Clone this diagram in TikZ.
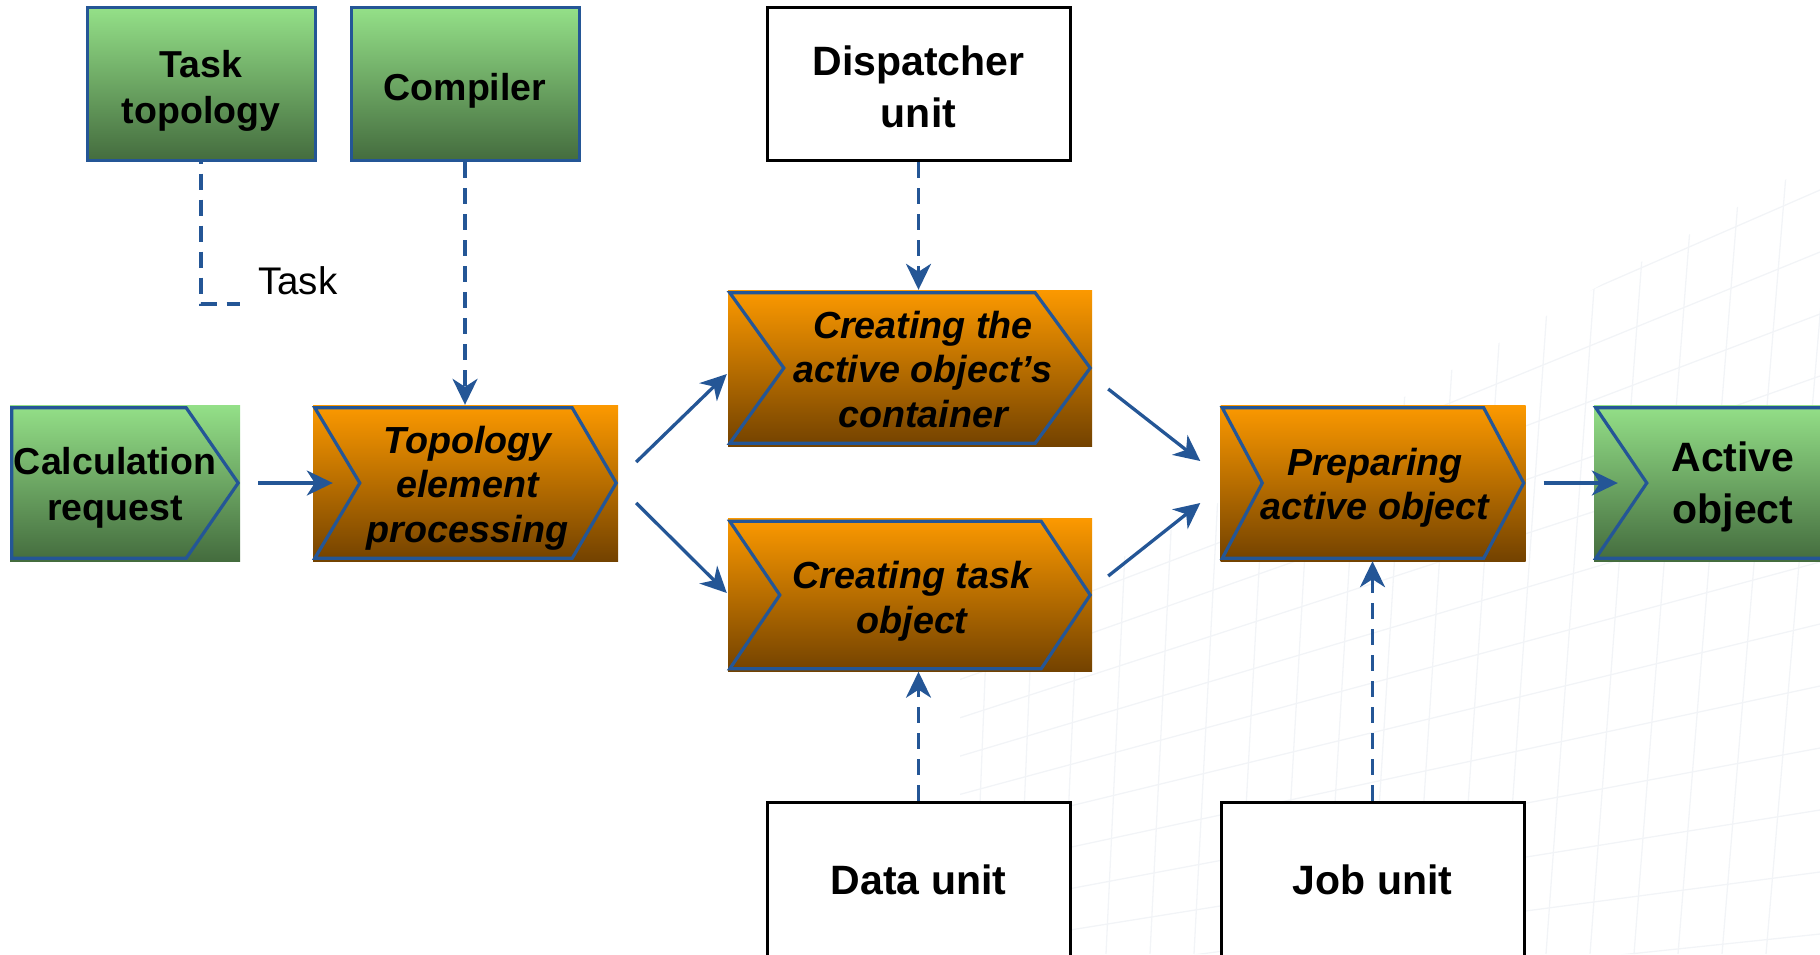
\documentclass[tikz,border=0pt]{standalone}
\usepackage{fontspec}
\setmainfont{Liberation Sans}
\usetikzlibrary{arrows.meta,calc}
\definecolor{gtop}{RGB}{148,224,136}
\definecolor{gbot}{RGB}{68,108,62}
\definecolor{otop}{RGB}{252,153,0}
\definecolor{obot}{RGB}{115,66,0}
\definecolor{lblue}{RGB}{36,86,150}
\definecolor{gridc}{RGB}{242,244,247}
\tikzset{
  gbox/.style={rectangle, inner sep=0pt, top color=gtop, bottom color=gbot},
  gboxd/.style={gbox, draw=lblue, line width=3pt},
  obox/.style={rectangle, inner sep=0pt, top color=otop, bottom color=obot},
  wbox/.style={rectangle, inner sep=0pt, draw=black, fill=white, line width=3pt},
  gtxt/.style={font=\fontsize{37.5}{46}\selectfont\bfseries, align=center, inner sep=0pt},
  otxt/.style={font=\fontsize{37.7}{44.5}\selectfont\bfseries\itshape, align=center, inner sep=0pt},
  wtxt/.style={font=\fontsize{41}{52}\selectfont\bfseries, align=center, inner sep=0pt},
  outl/.style={draw=lblue, line width=3.2pt},
  arr/.style={draw=lblue, line width=3.3pt, -{Stealth[length=26pt,width=25pt,inset=8pt]}},
  darr/.style={arr, dash pattern=on 16pt off 10pt},
  dln/.style={draw=lblue, line width=3.3pt, dash pattern=on 16pt off 10pt},
  gridl/.style={draw=gridc, line width=1.3pt},
}
\newcommand\chevout[3]{%
  \draw[outl] ($(#1.north west)+(2,3)$) -- ($(#1.north east)+(-2-#3,3)$)
    -- ($(#1.east)+(-2,0)$) -- ($(#1.south east)+(-2-#3,-3)$)
    -- ($(#1.south west)+(2,-3)$) -- ($(#1.west)+(2+#2,0)$) -- cycle;}
\begin{document}
\begin{tikzpicture}[x=1pt,y=-1pt]
\useasboundingbox (0,0) rectangle (1820,954);
\clip (0,0) rectangle (1820,954);

% faint background grid
\begin{scope}
  \clip (1820,160) -- (1820,954) -- (960,954) -- (960,650) -- cycle;
  \foreach \i in {0,...,13} {
    \draw[gridl] (-430,1170) -- (1820,{190+62*\i});
  }
  \foreach \j in {0,...,19} {
    \draw[gridl] ({960+46*\j},150) -- ({930+44*\j},954);
  }
\end{scope}

% top boxes
\node[gboxd, minimum width=228pt, minimum height=153pt] (tt) at (201,84) {};
\node[gtxt] (ttT) at ($(tt)+(0,7)$) {Task\\topology};
\node[gboxd, minimum width=228pt, minimum height=153pt] (comp) at (465,84) {};
\node[gtxt] (compT) at ($(comp)+(0,7)$) {Compiler};
\node[wbox, minimum width=303pt, minimum height=153pt] (disp) at (918.5,84) {};
\node[wtxt] (dispT) at ($(disp)+(0,2.5)$) {Dispatcher\\unit};

% process chain
\node[gbox, minimum width=230pt, minimum height=156pt] (calc) at (125,483) {};
\chevout{calc}{0}{52}
\node[gtxt] (calcT) at ($(calc)+(-10,5)$) {Calculation\\request};

\node[obox, minimum width=305pt, minimum height=156pt] (topo) at (465.5,483) {};
\chevout{topo}{45}{44}
\node[otxt] (topoT) at ($(topo)+(2,5)$) {Topology\\element\\processing};

\node[obox, minimum width=364pt, minimum height=156pt] (cont) at (910,368) {};
\chevout{cont}{54}{55}
\node[otxt] (contT) at ($(cont)+(13,1.5)$) {Creating the\\active object’s\\container};

\node[obox, minimum width=364pt, minimum height=153pt] (task) at (910,595) {};
\chevout{task}{50}{49}
\node[otxt] (taskT) at ($(task)+(2,6)$) {Creating task\\object};

\node[obox, minimum width=305pt, minimum height=156pt] (prep) at (1373,483) {};
\chevout{prep}{40}{40}
\node[otxt] (prepT) at ($(prep)+(2,4.6)$) {Preparing\\active object};

\node[gbox, minimum width=306pt, minimum height=156pt] (act) at (1747,483) {};
\chevout{act}{51}{51}
\node[wtxt] (actT) at ($(act)+(-14,4)$) {Active\\object};

% bottom boxes
\node[wbox, minimum width=303pt, minimum height=156pt] (data) at (918.5,880) {};
\node[wtxt] (dataT) at (data) {Data unit};
\node[wbox, minimum width=303pt, minimum height=156pt] (job) at (1372.5,880) {};
\node[wtxt] (jobT) at (job) {Job unit};

% Task label and dashed elbow
\coordinate (tcorner) at (tt.south |- 0,304);
\coordinate (tend) at (240,304);
\draw[dln, dash phase=14.5pt] (tt.south) -- (tcorner) -- (tend);
\node[anchor=west, font=\fontsize{38.5}{46}\selectfont, inner sep=0pt] (tasklbl) at (258,281) {Task};

% dashed arrows
\draw[darr] (comp.south) -- (comp.south |- topo.north);
\draw[darr] (disp.south) -- (disp.south |- cont.north);
\draw[darr] (data.north) -- (data.north |- task.south);
\draw[darr] (job.north) -- (job.north |- prep.south);

% solid arrows
\draw[arr] ($(calc.east)+(18,0)$) -- ($(topo.west)+(20,0)$);
\draw[arr] ($(topo.east)+(18,-21)$) -- ($(cont.west)+(-1,6)$);
\draw[arr] ($(topo.east)+(18,20)$) -- ($(task.west)+(-1,-2)$);
\draw[arr] ($(cont.east)+(16,21)$) -- ($(prep.west)+(-20,-22)$);
\draw[arr] ($(task.east)+(16,-19)$) -- ($(prep.west)+(-20,20)$);
\draw[arr] ($(prep.east)+(18,0)$) -- ($(act.west)+(24,0)$);
\end{tikzpicture}
\end{document}
